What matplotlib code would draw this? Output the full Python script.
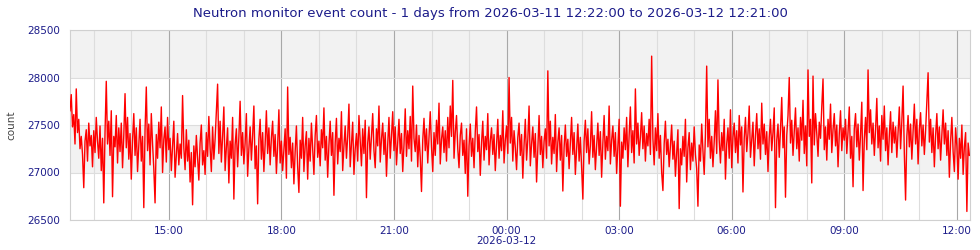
import numpy as np
import pandas as pd
import matplotlib
matplotlib.use("Agg")
import matplotlib.pyplot as plt
import matplotlib.dates as mdates

title = "Neutron monitor event count - 1 days from 2026-03-11 12:22:00 to 2026-03-12 12:21:00"
start_time = "2026-03-11 12:22:00"
end_time = "2026-03-12 12:21:00"
step_minutes = 2
y_label = "count"
y_ticks = [26500, 27000, 27500, 28000, 28500]

counts = [
    27650, 27820, 27480, 27610, 27300, 27880, 27420, 27560, 27250, 27380, 27190, 26840, 27330, 27450, 27120, 27520, 27280, 27390, 27060, 27440,
    27210, 27580, 27330, 27150, 27490, 27020, 27360, 26680, 27420, 27960, 27300, 27540, 27180, 27650, 26745, 27380, 27270, 27600, 27100, 27470,
    27220, 27520, 27050, 27390, 27830, 27260, 27580, 27140, 27410, 26930, 27340, 27620, 27180, 27470, 27010, 27290, 27560, 27120, 27380, 26630,
    27450, 27900, 27230, 27510, 27080, 27620, 27300, 27040, 26680, 27400, 27150, 27530, 27260, 27690, 27000, 27350, 27480, 27110, 27580, 27240,
    27360, 27020, 27280, 27540, 26950, 27190, 27410, 27080, 27300, 27150, 27810, 27260, 27030, 27450, 27120, 27340, 26900, 27210, 26660, 27280,
    27060, 27390, 27150, 26920, 27310, 27500, 27080, 27230, 26980, 27420, 27170, 27590, 27260, 27010, 27480, 27140, 27350, 27630, 27930, 27200,
    27540, 27110, 27380, 27690, 27020, 27260, 27470, 26890, 27330, 27150, 27580, 26720, 27290, 27460, 27060, 27370, 27750, 27180, 27420, 27090,
    27310, 27620, 26960, 27250, 27480, 27130, 27390, 27700, 27040, 27280, 26670, 27350, 27560, 27140, 27420, 27010, 27300, 27650, 27200, 27470,
    27080, 27360, 27540, 27170, 27400, 26990, 27280, 27660, 27100, 27330, 27020, 27250, 27460, 26940, 27900, 27190, 27370, 27050, 27310, 26880,
    27220, 27490, 27060, 26790, 27340, 27150, 27580, 27010, 27280, 27430, 26930, 27360, 27120, 27520, 27240, 26980, 27390, 27600, 27160, 27330,
    27070, 27450, 27260, 27680, 27130, 27380, 26950, 27290, 27540, 27180, 27420, 26760, 27310, 27570, 27090, 27360, 27220, 27640, 27020, 27280,
    27490, 27150, 27380, 27720, 27060, 27300, 27530, 26980, 27250, 27410, 27120, 27600, 27340, 27070, 27460, 27200, 27550, 26735, 27310, 27480,
    27140, 27390, 27620, 27230, 27050, 27460, 27280, 27700, 27110, 27350, 27520, 27190, 27420, 26960, 27300, 27580, 27150, 27380, 27640, 27230,
    27480, 27080, 27330, 27560, 27200, 27410, 27010, 27290, 27670, 27170, 27440, 27250, 27590, 27120, 27910, 27360, 27220, 27500, 27060, 27390,
    27160, 26800, 27340, 27570, 27230, 27460, 27100, 27380, 27640, 27270, 27010, 27420, 27180, 27550, 27300, 27730, 27090, 27350, 27480, 27210,
    27440, 27120, 27580, 27260, 27700, 27380, 27970, 27150, 27420, 27600, 27250, 27050, 27390, 27520, 27180, 27340, 26990, 27460, 26750, 27280,
    27510, 27170, 27360, 27050, 27430, 27690, 27220, 27400, 26970, 27310, 27540, 27130, 27380, 27240, 27620, 27080, 27330, 27470, 27190, 27400,
    27020, 27280, 27560, 27150, 27390, 27230, 27650, 27100, 27340, 27490, 27200, 28000, 27310, 27580, 27120, 27440, 27260, 27030, 27370, 27520,
    27180, 27400, 26940, 27290, 27560, 27130, 27350, 27700, 27070, 27300, 27480, 27160, 27410, 26900, 27250, 27600, 27190, 27380, 27050, 27330,
    27460, 27150, 28070, 27280, 27540, 27090, 27370, 27200, 27610, 27010, 27320, 27470, 27130, 27390, 26805, 27260, 27500, 27170, 27350, 27040,
    27300, 27580, 27190, 27420, 26980, 27240, 27510, 27120, 27370, 27060, 26720, 27330, 27550, 27210, 27460, 27090, 27280, 27640, 27160, 27390,
    27030, 27270, 27520, 27180, 27430, 26950, 27310, 27600, 27140, 27380, 27230, 27700, 27090, 27340, 27490, 27170, 27420, 26990, 27280, 27560,
    26645, 27320, 27150, 27470, 27240, 27580, 27060, 27390, 27690, 27210, 27440, 27100, 27880, 27300, 27520, 27180, 27370, 27630, 27250, 27490,
    27120, 27410, 27280, 27560, 27190, 28225, 27360, 27080, 27470, 27230, 27620, 27150, 27390, 27000, 26810, 27300, 27540, 27190, 27350, 27060,
    27280, 27500, 27140, 27330, 26960, 27210, 27450, 26620, 27250, 27080, 27380, 27170, 27560, 26900, 27260, 27420, 27030, 27310, 27120, 27480,
    27190, 27040, 26645, 27290, 27120, 27510, 27230, 26980, 27400, 28120, 27270, 27560, 27150, 27380, 27060, 27320, 27650, 27200, 27975, 27340,
    27100, 27420, 27230, 27560, 26930, 27300, 27470, 27150, 27660, 27050, 27370, 27520, 27210, 27440, 27100, 27600, 27290, 27480, 26795, 27360,
    27580, 27220, 27410, 27700, 27160, 27350, 27530, 27070, 27390, 27620, 27250, 27460, 27140, 27730, 27300, 27510, 27190, 27430, 27010, 27370,
    27560, 27230, 27420, 27680, 26630, 27340, 27510, 27160, 27450, 27790, 27260, 27480, 26740, 27390, 27600, 28000, 27310, 27550, 27180, 27430,
    27680, 27250, 27470, 27120, 27580, 27340, 27760, 27200, 27490, 27070, 28080, 27380, 27560, 26890, 28015, 27290, 27620, 27410, 27170, 27530,
    27360, 27690, 27985, 27240, 27480, 27130, 27560, 27350, 27720, 27210, 27450, 27620, 27280, 27500, 27060, 27410, 27650, 27230, 27470, 27340,
    27560, 27200, 27430, 27690, 27150, 27380, 26850, 27460, 27620, 27270, 27510, 27130, 27400, 27740, 26810, 27350, 27580, 27240, 28080, 27420,
    27660, 27300, 27520, 27180, 27450, 27780, 27260, 27490, 27120, 27600, 27350, 27700, 27230, 27470, 27080, 27390, 27640, 27210, 27530, 27310,
    27480, 27160, 27420, 27690, 27250, 27540, 27910, 27200, 26710, 27380, 27600, 27270, 27510, 27140, 27430, 27720, 27300, 27560, 27090, 27450,
    27630, 27280, 27500, 27190, 27440, 27750, 28050, 27320, 27560, 27210, 27470, 27060, 27390, 27620, 27250, 27480, 27130, 27400, 27660, 27300,
    27520, 27180, 27440, 26950, 27330, 27580, 27220, 27010, 27470, 27280, 26930, 27360, 27150, 27500, 26980, 27270, 27420, 26590, 27310, 27180,
]

times = pd.date_range(start=start_time, periods=len(counts), freq=f"{step_minutes}min")

navy = "#1c1c8a"
fig = plt.figure(figsize=(9.8, 2.5), dpi=100)
ax = fig.add_axes([70 / 980, 30 / 250, 900 / 980, 190 / 250])

# alternating background bands
for i in range(len(y_ticks) - 1):
    if i % 2 == 1:
        ax.axhspan(y_ticks[i], y_ticks[i + 1], color="#f2f2f2", zorder=0, lw=0)

ax.plot(times, counts, color="#ff0000", lw=1.0, zorder=3)

ax.set_xlim(pd.Timestamp(start_time), pd.Timestamp(end_time))
ax.set_ylim(y_ticks[0], y_ticks[-1])
ax.set_yticks(y_ticks)

ax.xaxis.set_major_locator(mdates.HourLocator(byhour=range(0, 24, 3)))
ax.xaxis.set_minor_locator(mdates.HourLocator())


def fmt(x, pos=None):
    d = mdates.num2date(x)
    if d.hour == 0 and d.minute == 0:
        return d.strftime("%H:%M") + "\n" + d.strftime("%Y-%m-%d")
    return d.strftime("%H:%M")


ax.xaxis.set_major_formatter(plt.FuncFormatter(fmt))

ax.grid(which="minor", axis="x", color="#dddddd", lw=0.8, zorder=1)
ax.grid(which="major", axis="x", color="#a8a8a8", lw=0.8, zorder=1)
ax.grid(which="major", axis="y", color="#dddddd", lw=0.8, zorder=1)
ax.set_axisbelow(True)

ax.tick_params(axis="both", which="both", length=0, colors=navy, labelsize=7.5)
ax.tick_params(axis="x", pad=4)
ax.tick_params(axis="y", pad=7)
for lab in ax.get_xticklabels():
    lab.set_linespacing(1.0)
for s in ax.spines.values():
    s.set_color("#d0d0d0")
    s.set_linewidth(0.8)

ax.set_ylabel(y_label, color="#444444", fontsize=7.5)
ax.yaxis.set_label_coords(-54 / 900, 0.5)
fig.text(0.5, 1 - 14 / 250, title, color=navy, fontsize=9.5, ha="center", va="center")

fig.savefig("out.png", dpi=100)
